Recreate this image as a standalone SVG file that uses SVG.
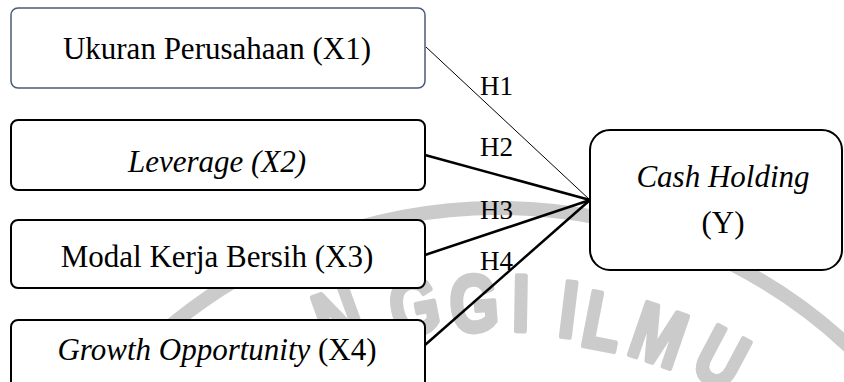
<svg xmlns="http://www.w3.org/2000/svg" width="844" height="382" viewBox="0 0 844 382">
<style>
.box{fill:#fff;stroke:#000;stroke-width:2}
.lbl{font-size:31px;fill:#000;text-anchor:middle}
.it{font-style:italic}
.h{font-size:27px;fill:#000}
.wm{font-size:80px;fill:#cbcbcb;stroke:#cbcbcb;stroke-width:5;stroke-linejoin:round;text-anchor:middle}
.ln{stroke:#000;fill:none;stroke-width:2.5}
</style>
<rect width="844" height="382" fill="#fff"/>
<g id="watermark" font-family="Liberation Sans, Arial, sans-serif" font-weight="700">
<circle cx="498" cy="722" r="514" fill="none" stroke="#cbcbcb" stroke-width="14"/>
<text class="wm" transform="translate(338 316) rotate(-20) scale(0.78 1)" x="0" y="29">N</text>
<text class="wm" transform="translate(414 305) rotate(-11) scale(0.78 1)" x="0" y="29">G</text>
<text class="wm" transform="translate(474 302) rotate(-4) scale(0.78 1)" x="0" y="29">G</text>
<text class="wm" transform="translate(521 302) rotate(1) scale(0.78 1)" x="0" y="29">I</text>
<text class="wm" transform="translate(569 308) rotate(7) scale(0.78 1)" x="0" y="29">I</text>
<text class="wm" transform="translate(603 320) rotate(11) scale(0.78 1)" x="0" y="29">L</text>
<text class="wm" transform="translate(659 334) rotate(19) scale(0.78 1)" x="0" y="29">M</text>
<text class="wm" transform="translate(722 357) rotate(28) scale(0.78 1)" x="0" y="29">U</text>
</g>
<g id="connectors" font-family="Liberation Serif, DejaVu Serif, serif">
<line x1="426" y1="47" x2="590" y2="200" stroke="#000" stroke-width="1"/>
<line class="ln" x1="425" y1="155" x2="590" y2="200"/>
<line class="ln" x1="425" y1="255" x2="590" y2="200"/>
<line class="ln" x1="425" y1="345" x2="590" y2="200"/>
<text class="h" x="480" y="95">H1</text>
<text class="h" x="480" y="156">H2</text>
<text class="h" x="480" y="219">H3</text>
<text class="h" x="480" y="270">H4</text>
</g>
<g id="nodes" font-family="Liberation Serif, DejaVu Serif, serif">
<g id="x1">
<rect class="box" x="11" y="8" width="414" height="80" rx="7" style="stroke:#4b5b78;stroke-width:1.5"/>
<text class="lbl" x="217" y="59">Ukuran Perusahaan (X1)</text>
</g>
<g id="x2">
<rect class="box" x="11" y="120" width="414" height="70" rx="7"/>
<text class="lbl it" x="217" y="172">Leverage (X2)</text>
</g>
<g id="x3">
<rect class="box" x="11" y="220" width="414" height="68" rx="7"/>
<text class="lbl" x="217" y="267">Modal Kerja Bersih (X3)</text>
</g>
<g id="x4">
<rect class="box" x="11" y="320" width="414" height="80" rx="7"/>
<text class="lbl" x="217" y="360"><tspan class="it">Growth Opportunity</tspan> (X4)</text>
</g>
<g id="y">
<rect class="box" x="590" y="130" width="252" height="140" rx="20"/>
<text class="lbl it" x="723" y="187">Cash Holding</text>
<text class="lbl" x="723" y="233">(Y)</text>
</g>
</g>
</svg>
